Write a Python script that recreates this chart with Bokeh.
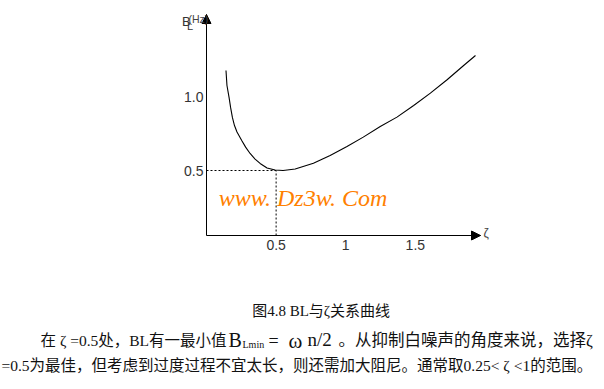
from bokeh.plotting import figure
from bokeh.models import Range1d, FixedTicker, Arrow, NormalHead, Label, CustomJSTickFormatter
from bokeh.embed import file_html
from bokeh.resources import INLINE

# ---- data ----
zeta = [0.140, 0.147, 0.162, 0.173, 0.186, 0.201, 0.219, 0.253, 0.281, 0.313, 0.349,
        0.385, 0.435, 0.493, 0.550, 0.637, 0.768, 0.888, 1.009, 1.126, 1.248, 1.368,
        1.488, 1.608, 1.728, 1.847, 1.932]
bl = [1.180, 1.078, 0.997, 0.929, 0.861, 0.806, 0.762, 0.704, 0.659, 0.616, 0.578,
      0.548, 0.517, 0.503, 0.500, 0.510, 0.550, 0.602, 0.663, 0.727, 0.799, 0.863,
      0.942, 1.026, 1.117, 1.214, 1.282]
x_ticks = [0.5, 1.0, 1.5]
x_tick_labels = ["0.5", "1", "1.5"]
y_ticks = [0.5, 1.0]
y_tick_labels = ["0.5", "1.0"]
zeta_opt = 0.5
bl_min = 0.5

caption = "图4.8  BL与ζ关系曲线"
line2a = "在 ζ =0.5处，BL有一最小值"
line2b = "B"
line2c = "Lmin"
line2d = "="
line2o = "ω"
line2e = "n/2"
line2f = "。从抑制白噪声的角度来说，选择ζ"
line3 = "=0.5为最佳，但考虑到过度过程不宜太长，则还需加大阻尼。通常取0.25< ζ <1的范围。"
watermark = "www. Dz3w. Com"

# ---- layout ----
W, H = 604, 389
FL, FR, FT, FB = 206, 480, 14, 235      # axis box in page pixels
X0, X1 = 0.0, 1.968                      # zeta at the y axis / x arrow tip
Y0, Y1 = 0.058, 1.561                    # BL at the x axis / y arrow tip


def dx(px):
    return X0 + (px - FL) * (X1 - X0) / (FR - FL)


def dy(py):
    return Y0 + (FB - py) * (Y1 - Y0) / (FB - FT)


p = figure(width=W, height=H, x_range=Range1d(dx(0), dx(W)), y_range=Range1d(dy(H), dy(0)),
           output_backend="svg", toolbar_location=None, min_border=0)
p.styles = {"position": "absolute", "left": "0px", "top": "0px"}
p.outline_line_color = None
p.xgrid.visible = False
p.ygrid.visible = False
p.background_fill_color = "white"
p.border_fill_color = "white"

fmt_js = "const i = tv.findIndex(t => Math.abs(t - tick) < 1e-9); return i >= 0 ? tl[i] : '';"
p.xaxis.ticker = FixedTicker(ticks=x_ticks)
p.xaxis.formatter = CustomJSTickFormatter(args=dict(tv=x_ticks, tl=x_tick_labels), code=fmt_js)
p.yaxis.ticker = FixedTicker(ticks=y_ticks)
p.yaxis.formatter = CustomJSTickFormatter(args=dict(tv=y_ticks, tl=y_tick_labels), code=fmt_js)
p.xaxis.fixed_location = Y0
p.xaxis.bounds = (X0, X1)
p.yaxis.fixed_location = X0
p.yaxis.bounds = (Y0, Y1)
for ax in (p.xaxis, p.yaxis):
    ax.major_tick_out = 0
    ax.major_tick_in = 0
    ax.minor_tick_out = 0
    ax.minor_tick_in = 0
    ax.axis_line_color = "black"
    ax.axis_line_width = 1
    ax.major_label_text_font = "Liberation Sans"
    ax.major_label_text_font_size = "14px"
    ax.major_label_text_color = "#333333"
p.xaxis.major_label_standoff = 4
p.yaxis.major_label_standoff = 3

# arrow heads on the axes
p.add_layout(Arrow(end=NormalHead(size=9, fill_color="black", line_color="black"),
                   x_start=X1 - 0.06, y_start=Y0, x_end=X1, y_end=Y0, line_color="black"))
p.add_layout(Arrow(end=NormalHead(size=9, fill_color="black", line_color="black"),
                   x_start=X0, y_start=Y1 - 0.06, x_end=X0, y_end=Y1, line_color="black"))

# curve
p.line(zeta, bl, line_color="black", line_width=1.1)

# dotted guides
p.segment(x0=[X0, zeta_opt], y0=[bl_min, Y0], x1=[zeta_opt, zeta_opt], y1=[bl_min, bl_min],
          line_color="black", line_width=1, line_dash="2 2")

MIX = "Liberation Serif, Noto Sans CJK SC"


def lab(text, px, py, size, font="Liberation Sans", color="#111111", align="left", style="normal"):
    p.add_layout(Label(x=dx(px), y=dy(py), text=text, text_font=font,
                       text_font_size=f"{size}px", text_color=color, text_align=align,
                       text_baseline="middle", text_font_style=style))


# axis titles
lab("B", 181.5, 20.5, 13, color="#333333")
lab("L", 186.5, 25.5, 11, color="#333333")
lab("(Hz)", 188, 18.5, 10.5, color="#444444")
lab("ζ", 483, 232, 12, color="#444444")

# watermark
lab(watermark, 302.5, 197, 24, font="Liberation Serif", color="#FF8000", align="center", style="italic")

# caption and text
lab(caption, 322.5, 310, 15, font=MIX, align="center")
lab(line2a, 40, 340, 15.5, font=MIX)
lab(line2b, 228, 339, 20, font="Liberation Serif")
lab(line2c, 242, 344, 10, font="Liberation Serif")
lab(line2d, 268, 340, 18, font="Liberation Serif")
lab(line2o, 288, 340, 21, font="Liberation Serif")
lab(line2e, 307, 339, 19, font="Liberation Serif")
lab(line2f, 338, 340, 16.5, font=MIX)
lab(line3, 1, 365, 15.5, font=MIX)

open("out.html", "w").write(file_html(p, INLINE))
